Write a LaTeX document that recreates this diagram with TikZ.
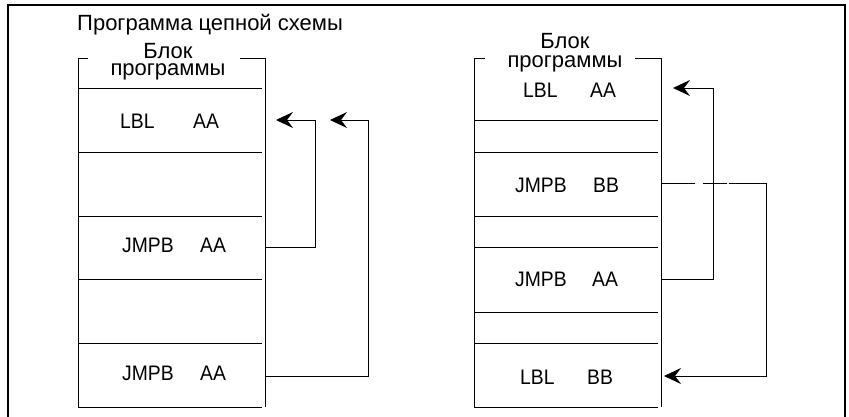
\documentclass[tikz,border=0pt]{standalone}
\usepackage{fontspec}
\setmainfont{Liberation Sans}
\newfontfamily\cellfont[FakeStretch=0.92]{Liberation Sans}
\usetikzlibrary{arrows.meta}
\tikzset{
  frame/.style={line width=2pt},
  blk/.style={line width=1pt},
  sep/.style={line width=0.9pt},
  conn/.style={line width=1pt},
  arr/.style={line width=1pt,-{Stealth[length=17pt,width=16pt,inset=6pt]}},
  hdr/.style={inner sep=0pt,anchor=base,font=\fontsize{22}{24}\selectfont},
  hdr2/.style={inner sep=0pt,anchor=base,align=center},
  cell/.style={inner sep=0pt,anchor=base west,font=\cellfont\fontsize{21}{24}\selectfont}
}
\begin{document}
\begin{tikzpicture}[x=1pt,y=-1pt]
\useasboundingbox (0,0) rectangle (849,416);
% outer frame
\draw[frame] (8,430) -- (8,5) -- (845,5) -- (845,430);

% ===== left block =====
\node[hdr] (title) at (210,30) {Программа цепной схемы};
\node[hdr2,font=\fontsize{22}{17.5}\selectfont] (lhdr) at (168,75.5) {Блок\\программы};
\draw[blk] (88,58) -- (78,58) -- (78,407) -- (262,407);
\draw[blk] (240,58) -- (265,58) -- (265,407);
\foreach \yy in {88,152,216,279,343}{\draw[sep] (78,\yy) -- (262,\yy);}
\node[cell] (l1a) at (120,128) {LBL};
\node[cell] (l1b) at (193,128) {AA};
\node[cell] (l2a) at (122,252) {JMPB};
\node[cell] (l2b) at (200,252) {AA};
\node[cell] (l3a) at (122,380) {JMPB};
\node[cell] (l3b) at (200,380) {AA};
\coordinate (lt1) at (276,120);
\coordinate (lt2) at (330,120);
\coordinate (lj1) at (265,247);
\coordinate (lj2) at (265,376);
\draw[arr] (lj1) -| (315,120) -- (lt1);
\draw[arr] (lj2) -| (368,120) -- (lt2);

% ===== right block =====
\node[hdr2,font=\fontsize{22}{19}\selectfont] (rhdr) at (565,67) {Блок\\программы};
\draw[blk] (485,58) -- (474,58) -- (474,407) -- (658,407);
\draw[blk] (635,58) -- (661,58) -- (661,407);
\foreach \yy in {120,152,216,247,312,343}{\draw[sep] (474,\yy) -- (658,\yy);}
\node[cell] (r1a) at (523,97) {LBL};
\node[cell] (r1b) at (590,97) {AA};
\node[cell] (r2a) at (515,192) {JMPB};
\node[cell] (r2b) at (593,192) {BB};
\node[cell] (r3a) at (515,286) {JMPB};
\node[cell] (r3b) at (592,286) {AA};
\node[cell] (r4a) at (520,384) {LBL};
\node[cell] (r4b) at (587,384) {BB};
\coordinate (rt1) at (673,88);
\coordinate (rt2) at (664,376);
\coordinate (rj1) at (661,279);
\coordinate (rj2) at (661,183);
\coordinate (g1) at (695,183);
\coordinate (g2) at (703,183);
\coordinate (g3) at (727,183);
\coordinate (g4) at (729,183);
\draw[arr] (rj1) -| (713,88) -- (rt1);
\draw[conn] (rj2) -- (g1);
\draw[conn] (g2) -- (g3);
\draw[arr] (g4) -| (766,376) -- (rt2);
\end{tikzpicture}
\end{document}
